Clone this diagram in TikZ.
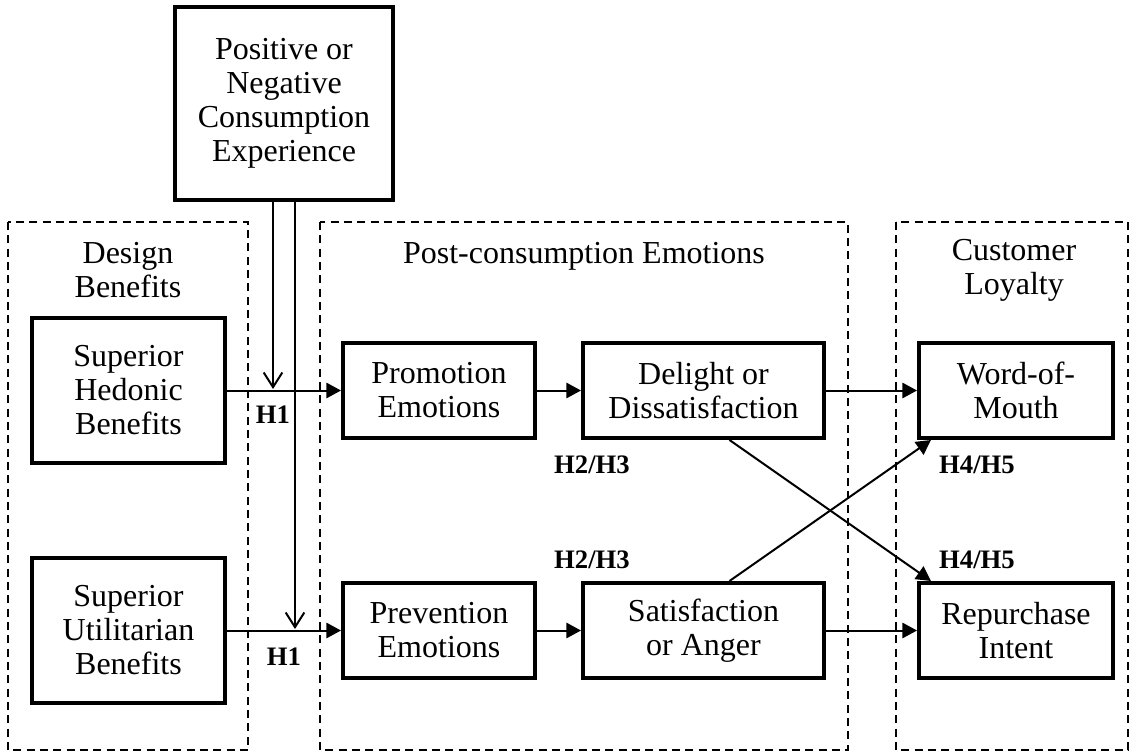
\documentclass[tikz,border=0pt]{standalone}
\usepackage{fontspec}
\setmainfont{Liberation Serif}
\usepackage{tikz}
\usetikzlibrary{arrows.meta,calc}
\tikzset{
  every picture/.style={line join=miter, >=Stealth},
  box/.style={draw, line width=3pt, align=center, inner sep=0pt, font=\fontsize{24}{25.5}\selectfont},
  tallbox/.style={box, minimum width=144.75pt, minimum height=108.75pt},
  flatbox/.style={box, minimum height=71.25pt},
  group/.style={draw, line width=1.3pt, dash pattern=on 6pt off 4pt},
  title/.style={align=center, font=\fontsize{24}{25.5}\selectfont},
  hyp/.style={font=\fontsize{20}{20}\selectfont\bfseries},
  link/.style={line width=1.5pt, -{Triangle[length=11pt,width=11.5pt]}},
  feed/.style={line width=1.5pt, -{Straight Barb[length=11pt,width=14pt]}},
}

\begin{document}
\begin{tikzpicture}[x=0.75pt,y=-0.75pt]
\useasboundingbox (0,0) rectangle (1130,753);
\draw[group] (8,222) rectangle (248,750);
\draw[group] (320,222) rectangle (848,750);
\draw[group] (896,222) rectangle (1128,750);
\node[title] (design) at (128,270) {Design\\Benefits};
\node[title] (post) at (584,256) {Post-consumption Emotions};
\node[title] (loyal) at (1014,270) {Customer\\Loyalty};
\node[box, minimum width=163.5pt, minimum height=144.75pt] (exp) at (284,103.5) {Positive or\\Negative\\Consumption\\Experience};
\node[tallbox] (hed) at (128.5,390.5) {Superior\\Hedonic\\Benefits};
\node[tallbox] (uti) at (128.5,630.5) {Superior\\Utilitarian\\Benefits};
\node[flatbox, minimum width=144pt] (prom) at (439,390.5) {Promotion\\Emotions};
\node[flatbox, minimum width=144pt] (prev) at (439,630.5) {Prevention\\Emotions};
\node[flatbox, minimum width=180.75pt] (del) at (703.5,390.5) {Delight or\\Dissatisfaction};
\node[flatbox, minimum width=180.75pt] (sat) at (703.5,630.5) {Satisfaction\\or Anger};
\node[flatbox, minimum width=145.5pt] (wom) at (1016,390.5) {Word-of-\\Mouth};
\node[flatbox, minimum width=145.5pt] (rep) at (1016,630.5) {Repurchase\\Intent};
\coordinate (feedhed) at (273,389);
\coordinate (feeduti) at (295,629);
\draw[feed] (exp.south -| feedhed) -- (feedhed);
\draw[feed] (exp.south -| feeduti) -- (feeduti);
\draw[link] (hed) -- (prom);
\draw[link] (uti) -- (prev);
\draw[link] (prom) -- (del);
\draw[link] (prev) -- (sat);
\draw[link] (del) -- (wom);
\draw[link] (sat) -- (rep);
\draw[link] ($(del.south)+(26,0)$) -- ($(rep.north west)+(14,0)$);
\draw[link] ($(sat.north)+(26,0)$) -- ($(wom.south west)+(14,0)$);
\node[hyp] (hypa) at (273,415) {H1};
\node[hyp] (hypb) at (284,657) {H1};
\node[hyp] (hypc) at (592,465) {H2/H3};
\node[hyp] (hypd) at (592,560) {H2/H3};
\node[hyp] (hype) at (977,465) {H4/H5};
\node[hyp] (hypf) at (977,560) {H4/H5};
\end{tikzpicture}
\end{document}
